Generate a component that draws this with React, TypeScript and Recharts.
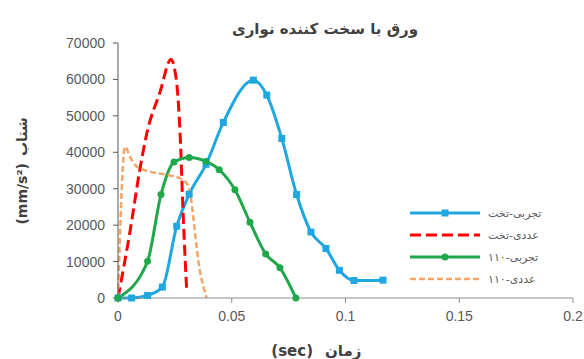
import React from 'react';
import { LineChart, Line, XAxis, YAxis } from 'recharts';

// Time (sec) vs acceleration (mm/s^2) for each case
const flatTestX = [0, 0.006, 0.013, 0.0195, 0.0258, 0.0313, 0.0387, 0.0463, 0.0595, 0.0654, 0.072, 0.0785, 0.0848, 0.0914, 0.0973, 0.1037, 0.1165];
const flatTestY = [0, 0, 700, 3000, 19700, 28500, 36700, 48200, 59800, 55700, 43800, 28400, 18100, 13600, 7600, 4800, 4900];

const flatNumX = [0, 0.0053, 0.0097, 0.0126, 0.0185, 0.0233, 0.0258, 0.0273, 0.0287, 0.0302];
const flatNumY = [0, 18300, 35600, 45000, 56600, 65500, 59000, 45000, 22000, 2000];

const s110TestX = [0, 0.013, 0.0189, 0.0246, 0.0313, 0.0387, 0.0445, 0.0514, 0.058, 0.0649, 0.0712, 0.0782];
const s110TestY = [0, 10100, 28400, 37300, 38600, 37500, 35200, 29700, 20800, 12100, 8300, 0];

const s110NumX = [0, 0.0031, 0.0055, 0.0082, 0.014, 0.0215, 0.0287, 0.031, 0.036, 0.039];
const s110NumY = [0, 41500, 38500, 36100, 34700, 33800, 32400, 30500, 7400, 0];

const xTicks = [0, 0.05, 0.1, 0.15, 0.2];
const yTicks = [0, 10000, 20000, 30000, 40000, 50000, 60000, 70000];

const title = 'ورق با سخت کننده نواری';
const xTitleParts = ['(sec)', 'زمان'];
const yTitleParts = ['(mm/s²)', 'شتاب'];

const zip = (xs: number[], ys: number[]) => xs.map((x, i) => ({ x, y: ys[i] }));

interface SeriesDef {
  key: string;
  name: string;
  color: string;
  dash?: string;
  width: number;
  marker?: 'square' | 'circle';
  data: { x: number; y: number }[];
}

const series: SeriesDef[] = [
  { key: 'flatTest', name: 'تخت-تجربی', color: '#1ea7e1', width: 3, marker: 'square', data: zip(flatTestX, flatTestY) },
  { key: 'flatNum', name: 'تخت-عددی', color: '#ff0000', dash: '11 5', width: 3, data: zip(flatNumX, flatNumY) },
  { key: 's110Test', name: '۱۱۰-تجربی', color: '#1fa84a', width: 3, marker: 'circle', data: zip(s110TestX, s110TestY) },
  { key: 's110Num', name: '۱۱۰-عددی', color: '#f2a66a', dash: '6 3', width: 2.5, data: zip(s110NumX, s110NumY) },
];

const SquareDot = (props: any) => {
  const { cx, cy, fill } = props;
  if (cx == null || cy == null) return null;
  return <rect x={cx - 3.5} y={cy - 3.5} width={7} height={7} fill={fill} />;
};

const CircleDot = (props: any) => {
  const { cx, cy, fill } = props;
  if (cx == null || cy == null) return null;
  return <circle cx={cx} cy={cy} r={3.5} fill={fill} />;
};

// each word isolated so the parts keep a fixed left-to-right order
const Iso = ({ children }: { children: React.ReactNode }) => (
  <span style={{ unicodeBidi: 'isolate', whiteSpace: 'pre' }}>{children}</span>
);

const LegendBox = () => (
  <div style={{ position: 'absolute', left: 405, top: 202, width: 170, direction: 'ltr' }}>
    {series.map((s) => {
      const [a, b] = s.name.split('-');
      return (
        <div key={s.key} style={{ display: 'flex', alignItems: 'center', height: 22 }}>
          <svg width={78} height={22} style={{ flex: 'none' }}>
            <line x1={5} x2={75} y1={11} y2={11} stroke={s.color} strokeWidth={s.width} strokeDasharray={s.dash} />
            {s.marker === 'square' && <rect x={36.5} y={7.5} width={7} height={7} fill={s.color} />}
            {s.marker === 'circle' && <circle cx={40} cy={11} r={3.5} fill={s.color} />}
          </svg>
          <div style={{ marginLeft: 5, fontSize: 11, color: '#595959', fontFamily: 'DejaVu Sans', whiteSpace: 'nowrap' }}>
            <Iso>{a}</Iso>
            <Iso>-</Iso>
            <Iso>{b}</Iso>
          </div>
        </div>
      );
    })}
  </div>
);

const XTitle = () => (
  <g fontSize={15} fontWeight="bold" fill="#404040" fontFamily="DejaVu Sans">
    <text x={313} y={356} textAnchor="end">{xTitleParts[0]}</text>
    <text x={325} y={356} textAnchor="start">{xTitleParts[1]}</text>
  </g>
);

const YTitle = () => (
  <g fontSize={14} fontWeight="bold" fill="#404040" fontFamily="DejaVu Sans" transform="rotate(-90 22 181)">
    <text x={40} y={186} textAnchor="end">{yTitleParts[0]}</text>
    <text x={47} y={186} textAnchor="start">{yTitleParts[1]}</text>
  </g>
);

export default function App() {
  return (
    <div style={{ position: 'absolute', left: 0, top: 0, width: 584, height: 359, background: '#fff' }}>
      <div
        style={{
          position: 'absolute',
          left: 200,
          top: 20,
          width: 250,
          textAlign: 'center',
          fontFamily: 'DejaVu Sans',
          fontWeight: 'bold',
          fontSize: 15,
          color: '#404040',
          direction: 'rtl',
        }}
      >
        {title}
      </div>
      <LineChart width={584} height={359} margin={{ top: 43, right: 11, left: 58, bottom: 31 }}>
        <XAxis
          dataKey="x"
          type="number"
          domain={[0, 0.2]}
          ticks={xTicks}
          height={30}
          stroke="#8c8c8c"
          tickSize={5}
          tickMargin={8}
          tick={{ fill: '#595959', fontSize: 14, fontFamily: 'Liberation Sans' }}
          label={<XTitle />}
        />
        <YAxis
          type="number"
          domain={[0, 70000]}
          ticks={yTicks}
          width={60}
          stroke="#595959"
          tickSize={5}
          tickMargin={8}
          tick={{ fill: '#595959', fontSize: 14, fontFamily: 'Liberation Sans' }}
          label={<YTitle />}
        />
        {series.map((s) => (
          <Line
            key={s.key}
            data={s.data}
            dataKey="y"
            name={s.name}
            type="monotone"
            stroke={s.color}
            strokeWidth={s.width}
            strokeDasharray={s.dash}
            dot={s.marker === 'square' ? <SquareDot fill={s.color} /> : s.marker === 'circle' ? <CircleDot fill={s.color} /> : false}
            activeDot={false}
            isAnimationActive={false}
          />
        ))}
      </LineChart>
      <LegendBox />
    </div>
  );
}
